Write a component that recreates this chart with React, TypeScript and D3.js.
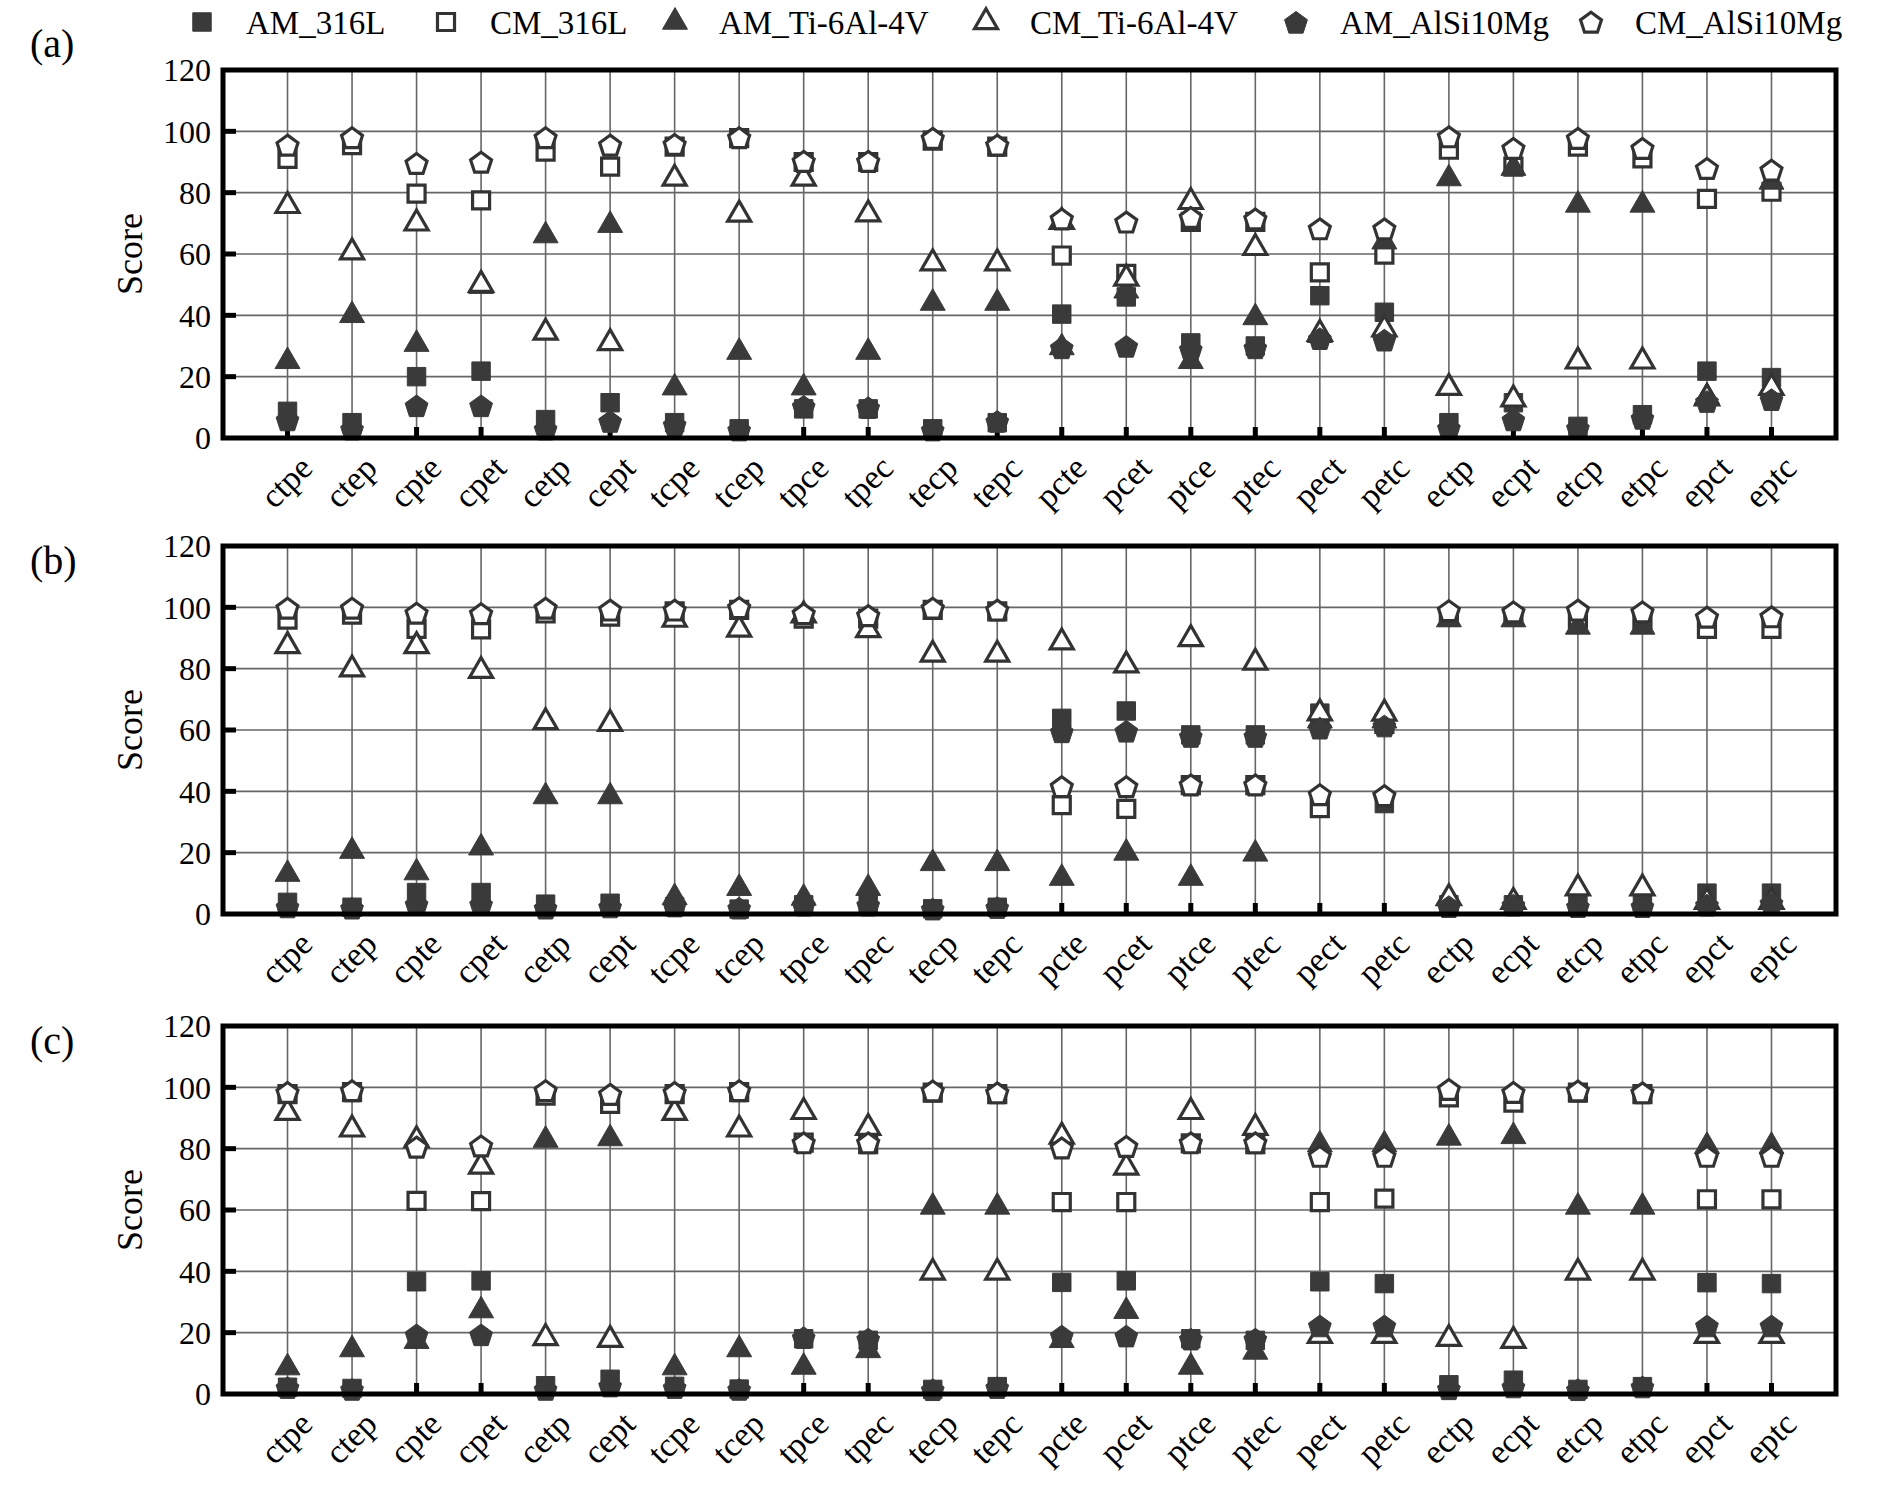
import * as d3 from "d3";
import React from "react";

const categories = [
  "ctpe", "ctep", "cpte", "cpet", "cetp", "cept", "tcpe", "tcep",
  "tpce", "tpec", "tecp", "tepc", "pcte", "pcet", "ptce", "ptec",
  "pect", "petc", "ectp", "ecpt", "etcp", "etpc", "epct", "eptc",
];
const seriesNames = ["AM_316L", "CM_316L", "AM_Ti-6Al-4V", "CM_Ti-6Al-4V", "AM_AlSi10Mg", "CM_AlSi10Mg"];
const yTicks = [0, 20, 40, 60, 80, 100, 120];
const panelLabels = ["(a)", "(b)", "(c)"];

// panel (a)
const aAM316L = [8.7, 5, 20, 21.8, 6, 11.5, 5, 3, 9.5, 9.5, 3, 5, 40.4, 46, 31, 30, 46.4, 41, 5, 11.5, 3.8, 7.6, 21.8, 19.7];
const aCM316L = [91, 95.5, 79.7, 77.5, 93.4, 88.5, 95, 97.8, 90, 90, 97, 95, 59.5, 53.5, 70.5, 70.5, 54, 59.8, 94, 88.5, 95, 91.2, 78, 80.3];
const aAMTi = [25, 40, 30.6, 49.5, 66, 69.4, 16.4, 28, 16.4, 28, 44, 44, 29.5, 48, 25, 39.3, 33.5, 64, 84.6, 88, 76, 76, 13.5, 83.5];
const aCMTi = [75.7, 60.6, 70, 50, 34.4, 31, 84.6, 72.9, 84.6, 73, 57, 57, 70.5, 52, 77, 62, 34, 35.5, 16.4, 12.6, 25, 25, 13, 16.4];
const aAMAl = [6, 3, 10.6, 10.6, 3, 5.5, 4.4, 2.7, 10.4, 10, 2.7, 5.5, 29.5, 30, 29, 29.5, 32.5, 32, 3.3, 6, 3.3, 6.5, 12, 12.6];
const aCMAl = [95.6, 98, 89.6, 90, 98, 95.6, 95.8, 98, 90.3, 90.3, 97.8, 95.6, 71.5, 70.5, 72, 71.5, 68.3, 68.3, 98.3, 94.5, 97.8, 94.5, 88, 87.4];

// panel (b)
const bAM316L = [3.8, 2.2, 7, 7, 3.2, 3.5, 2.4, 1.6, 3, 3, 1.7, 2.2, 63.8, 66.2, 58.4, 58.4, 65.5, 36, 3, 3, 3, 3, 6.8, 6.8];
const bCM316L = [96, 97.6, 93, 92.8, 98, 97, 98.7, 99.2, 96.3, 96.3, 99.2, 98.7, 35.5, 34.3, 42, 42, 34.5, 62, 97, 97, 96.3, 96, 93, 93];
const bAMTi = [13, 20.5, 13.5, 21.6, 38.3, 38.3, 5.4, 8.4, 5.2, 8.4, 16.5, 16.5, 11.7, 19.9, 11.7, 19.6, 63, 63, 96, 96, 93.6, 93.6, 4, 4];
const bCMTi = [87.4, 79.8, 87.4, 79.3, 62.6, 62, 96, 92.8, 97.4, 92.6, 84.6, 84.6, 88.6, 81.1, 89.7, 82, 65.5, 65.4, 5.2, 4, 8.4, 8.4, 4, 4];
const bAMAl = [2.4, 2, 3.2, 3.2, 2, 2.4, 2.7, 2, 3, 3, 1.7, 2.2, 59.5, 59.7, 58, 58, 60.7, 61.4, 2.5, 3, 2.5, 2.5, 3, 3.6];
const bCMAl = [99.8, 99.8, 98.2, 98, 99.8, 99.2, 99.2, 100, 98, 97.4, 99.8, 99.2, 41.6, 41.6, 42.2, 42.2, 39, 38.7, 99, 98.6, 99.2, 98.6, 96.9, 97];

// panel (c)
const cAM316L = [2.2, 1.8, 36.6, 36.9, 2.7, 4.8, 2.5, 1.6, 18, 17.5, 1.5, 2.4, 36.4, 36.9, 18, 17.5, 36.6, 36, 3, 4.5, 1.5, 2.4, 36.3, 36];
const cCM316L = [97.8, 98.4, 63, 62.9, 97.3, 94.6, 97.8, 98.4, 82, 81.5, 98.3, 97.8, 62.6, 62.6, 81.7, 81.5, 62.6, 63.7, 96.7, 95, 98.3, 97.8, 63.5, 63.5];
const cAMTi = [8.6, 14.5, 17.2, 27.2, 82.8, 83.3, 8.6, 14.5, 8.8, 14.2, 61, 61, 17.5, 27, 8.8, 13.7, 81.3, 81.3, 83.5, 84, 61, 61, 80.8, 80.8];
const cCMTi = [91.7, 86.3, 82.8, 74.2, 18.3, 17.7, 91.7, 86.3, 92, 86.8, 39.6, 39.6, 84, 73.9, 92, 86.8, 19, 19, 18, 17.4, 39.6, 39.6, 19, 19];
const cAMAl = [2.2, 1.6, 19.4, 19.4, 1.6, 2.7, 2.2, 1.6, 18.5, 18, 1.5, 2.2, 19, 19, 18, 18, 22.3, 22.3, 1.8, 2.4, 1.5, 2.4, 22.3, 22.3];
const cCMAl = [98.4, 99, 80.6, 81, 99, 97.8, 98.4, 99, 82, 82, 98.9, 98.3, 80.3, 80.8, 82, 82, 77.6, 77.6, 99.4, 98.4, 98.9, 98.3, 77.6, 77.6];

const panels = [
  [aAM316L, aCM316L, aAMTi, aCMTi, aAMAl, aCMAl],
  [bAM316L, bCM316L, bAMTi, bCMTi, bAMAl, bCMAl],
  [cAM316L, cCM316L, cAMTi, cCMTi, cAMAl, cCMAl],
];

const W = 1890;
const H = 1492;
const left = 223;
const right = 1836;
const panelTops = [70, 546, 1026];
const panelH = 368;
const font = "'Liberation Serif', 'Times New Roman', serif";
const dark = "#3a3a3a";

const pentagon = (r: number) => {
  const pts = d3.range(5).map((k) => {
    const a = (-90 + 72 * k) * (Math.PI / 180);
    return [r * Math.cos(a), r * Math.sin(a) + r * 0.12];
  });
  return "M" + pts.map((p) => p.join(",")).join("L") + "Z";
};

const shapes = [
  d3.symbol(d3.symbolSquare, 340)(),
  d3.symbol(d3.symbolSquare, 290)(),
  d3.symbol(d3.symbolTriangle, 270)(),
  d3.symbol(d3.symbolTriangle, 230)(),
  pentagon(12),
  pentagon(11),
];
const isOpen = (i: number) => i % 2 === 1;

const Marker: React.FC<{ i: number; x: number; y: number }> = ({ i, x, y }) => (
  <path
    d={shapes[i] as string}
    transform={`translate(${x},${y})`}
    fill={isOpen(i) ? "#fff" : dark}
    stroke={isOpen(i) ? "#333" : dark}
    strokeWidth={isOpen(i) ? 3.2 : 1}
    strokeLinejoin="miter"
  />
);

const Panel: React.FC<{ idx: number }> = ({ idx }) => {
  const top = panelTops[idx];
  const bottom = top + panelH;
  const x = d3.scalePoint<string>().domain(categories).range([left, right]).padding(1);
  const y = d3.scaleLinear().domain([0, 120]).range([bottom, top]);
  const series = panels[idx];
  return (
    <g>
      {yTicks.slice(1, -1).map((t) => (
        <line key={"gy" + t} x1={left} x2={right} y1={y(t)} y2={y(t)} stroke="#666" strokeWidth={1.6} />
      ))}
      {categories.map((c) => (
        <line key={"gx" + c} x1={x(c)} x2={x(c)} y1={top} y2={bottom} stroke="#666" strokeWidth={1.6} />
      ))}
      {yTicks.slice(1, -1).map((t) => (
        <line key={"ty" + t} x1={left} x2={left + 13} y1={y(t)} y2={y(t)} stroke="#000" strokeWidth={5} />
      ))}
      {categories.map((c) => (
        <line key={"tx" + c} x1={x(c)} x2={x(c)} y1={bottom} y2={bottom - 11} stroke="#000" strokeWidth={5} />
      ))}
      {series.map((vals, si) =>
        vals.map((v, ci) => <Marker key={si + "-" + ci} i={si} x={x(categories[ci]) as number} y={y(v)} />)
      )}
      <rect x={left} y={top} width={right - left} height={panelH} fill="none" stroke="#000" strokeWidth={5} />
      {yTicks.map((t) => (
        <text key={"ly" + t} x={left - 12} y={y(t)} dy="0.35em" textAnchor="end" fontSize={32} fontFamily={font}>
          {t}
        </text>
      ))}
      {categories.map((c) => {
        const ax = (x(c) as number) + 27;
        const ay = bottom + 32;
        return (
          <text key={"lx" + c} x={ax} y={ay} transform={`rotate(-45,${ax},${ay})`} textAnchor="end" fontSize={34} fontFamily={font}>
            {c}
          </text>
        );
      })}
      <text
        x={129}
        y={top + panelH / 2}
        transform={`rotate(-90,129,${top + panelH / 2})`}
        textAnchor="middle"
        dy="0.35em"
        fontSize={36}
        fontFamily={font}
      >
        Score
      </text>
      <text x={30} y={idx === 0 ? 57 : top + 28} fontSize={40} fontFamily={font}>
        {panelLabels[idx]}
      </text>
    </g>
  );
};

const legendMarkerX = [202, 446, 675, 986, 1296, 1591];

const App: React.FC = () => (
  <svg
    width={W}
    height={H}
    viewBox={`0 0 ${W} ${H}`}
    style={{ position: "absolute", left: 0, top: 0, background: "#fff" }}
  >
    <rect width={W} height={H} fill="#fff" />
    {seriesNames.map((n, i) => (
      <g key={n}>
        <Marker i={i} x={legendMarkerX[i]} y={22} />
        <text x={legendMarkerX[i] + 44} y={22} dy="0.35em" fontSize={33} fontFamily={font}>
          {n}
        </text>
      </g>
    ))}
    {[0, 1, 2].map((i) => (
      <Panel key={i} idx={i} />
    ))}
  </svg>
);

export default App;
